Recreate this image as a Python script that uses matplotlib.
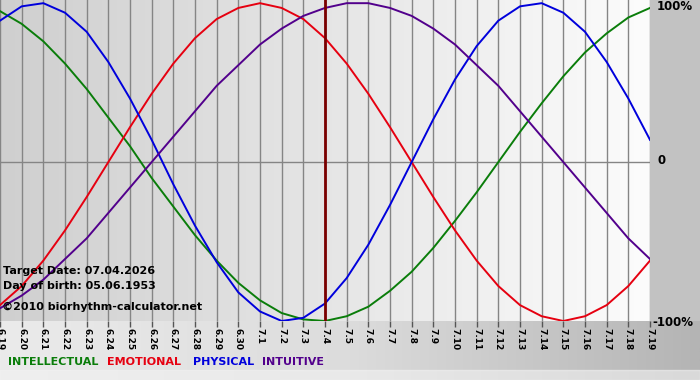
import numpy as np
import matplotlib
matplotlib.use("Agg")
import matplotlib.pyplot as plt
from matplotlib.colors import LinearSegmentedColormap

# days shown on the x axis (month.day)
days = ["6.19", "6.20", "6.21", "6.22", "6.23", "6.24", "6.25", "6.26", "6.27", "6.28",
        "6.29", "6.30", "7.1", "7.2", "7.3", "7.4", "7.5", "7.6", "7.7", "7.8",
        "7.9", "7.10", "7.11", "7.12", "7.13", "7.14", "7.15", "7.16", "7.17", "7.18", "7.19"]
target_day = "7.4"

# daily values (-1 .. 1)
physical = [0.89, 0.98, 1.00, 0.94, 0.82, 0.63, 0.40, 0.14, -0.14, -0.40, -0.63, -0.82, -0.94,
            -1.00, -0.98, -0.89, -0.73, -0.52, -0.27, 0.00, 0.27, 0.52, 0.73, 0.89, 0.98,
            1.00, 0.94, 0.82, 0.63, 0.40, 0.14]
emotional = [-0.90, -0.78, -0.62, -0.43, -0.22, 0.00, 0.22, 0.43, 0.62, 0.78, 0.90, 0.97, 1.00,
             0.97, 0.90, 0.78, 0.62, 0.43, 0.22, 0.00, -0.22, -0.43, -0.62, -0.78, -0.90,
             -0.97, -1.00, -0.97, -0.90, -0.78, -0.62]
intellectual = [0.95, 0.87, 0.76, 0.62, 0.46, 0.28, 0.10, -0.10, -0.28, -0.46, -0.62, -0.76,
                -0.87, -0.95, -0.99, -1.00, -0.97, -0.91, -0.81, -0.69, -0.54, -0.37, -0.19,
                0.00, 0.19, 0.37, 0.54, 0.69, 0.81, 0.91, 0.97]
intuitive = [-0.92, -0.84, -0.74, -0.61, -0.48, -0.32, -0.16, 0.00, 0.16, 0.32, 0.48, 0.61,
             0.74, 0.84, 0.92, 0.97, 1.00, 1.00, 0.97, 0.92, 0.84, 0.74, 0.61, 0.48, 0.32,
             0.16, 0.00, -0.16, -0.32, -0.48, -0.61]

series = [("INTELLECTUAL", intellectual, "#0a7d0a"),
          ("EMOTIONAL", emotional, "#e60010"),
          ("PHYSICAL", physical, "#0000dc"),
          ("INTUITIVE", intuitive, "#52008c")]

fig = plt.figure(figsize=(7, 3.8), dpi=100, facecolor="#d2d2d2")

# bottom strip: light on the left, darker on the right
bg = fig.add_axes([0, 0, 1, 59 / 380], zorder=-2)
bg.imshow(np.linspace(0, 1, 256).reshape(1, -1), extent=[0, 1, 0, 1], aspect="auto",
          cmap=LinearSegmentedColormap.from_list("strip", ["#ebebeb", "#dcdcdc", "#b4b4b4"]))
bg.axhspan(0, 10 / 59, color="#f2f2f2", alpha=0.6)
bg.set_xlim(0, 1)
bg.set_ylim(0, 1)
bg.axis("off")

# right hand grey panel
side = fig.add_axes([650 / 700, 59 / 380, 50 / 700, 321 / 380], zorder=-1)
side.set_facecolor("#c2c2c2")
side.set_xticks([])
side.set_yticks([])
for s in side.spines.values():
    s.set_visible(False)

ax = fig.add_axes([0, 59 / 380, 650 / 700, 321 / 380])
x = np.arange(len(days))
ax.set_xlim(0, len(days) - 1)
ax.set_ylim(-1.0, 1.02)

# plot background gradient grey -> white
grad = np.linspace(0, 1, 256).reshape(1, -1)
ax.imshow(grad, extent=[0, len(days) - 1, -1.0, 1.02], aspect="auto",
          cmap=LinearSegmentedColormap.from_list("bg", ["#cfcfcf", "#fcfcfc"]),
          zorder=0)

for xi in x:
    ax.axvline(xi, color="#858585", lw=1.0, zorder=1)
ax.axhline(0, color="#858585", lw=1.0, zorder=1)

for name, vals, col in series:
    ax.plot(x, vals, color=col, lw=1.4, zorder=3)

ax.axvline(days.index(target_day), color="#7a0000", lw=2.0, zorder=4)

ax.set_xticks(x)
ax.set_xticklabels(days, rotation=270, fontsize=6.5, fontweight="bold")
ax.tick_params(axis="x", length=4, width=1, color="#555555", pad=1)
ax.set_yticks([])
for s in ax.spines.values():
    s.set_visible(False)

# right side percentage labels
fig.text(657 / 700, 1 - 7 / 380, "100%", fontsize=8.5, fontweight="bold", va="center")
fig.text(657 / 700, 1 - 161 / 380, "0", fontsize=8.5, fontweight="bold", va="center")
fig.text(652 / 700, 1 - 322 / 380, "-100%", fontsize=8.5, fontweight="bold", va="center")

# info text block
fig.text(3 / 700, 1 - 271 / 380, "Target Date: 07.04.2026", fontsize=8, fontweight="bold", va="center")
fig.text(3 / 700, 1 - 286 / 380, "Day of birth: 05.06.1953", fontsize=8, fontweight="bold", va="center")
fig.text(2 / 700, 1 - 307 / 380, "\u00a92010 biorhythm-calculator.net", fontsize=8, fontweight="bold", va="center")

# legend
legend_x = [8, 107, 193, 262]
for (name, vals, col), lx in zip(series, legend_x):
    fig.text(lx / 700, 1 - 362 / 380, name, color=col, fontsize=8, fontweight="bold", va="center")

fig.savefig("out.png", dpi=100, facecolor=fig.get_facecolor())
